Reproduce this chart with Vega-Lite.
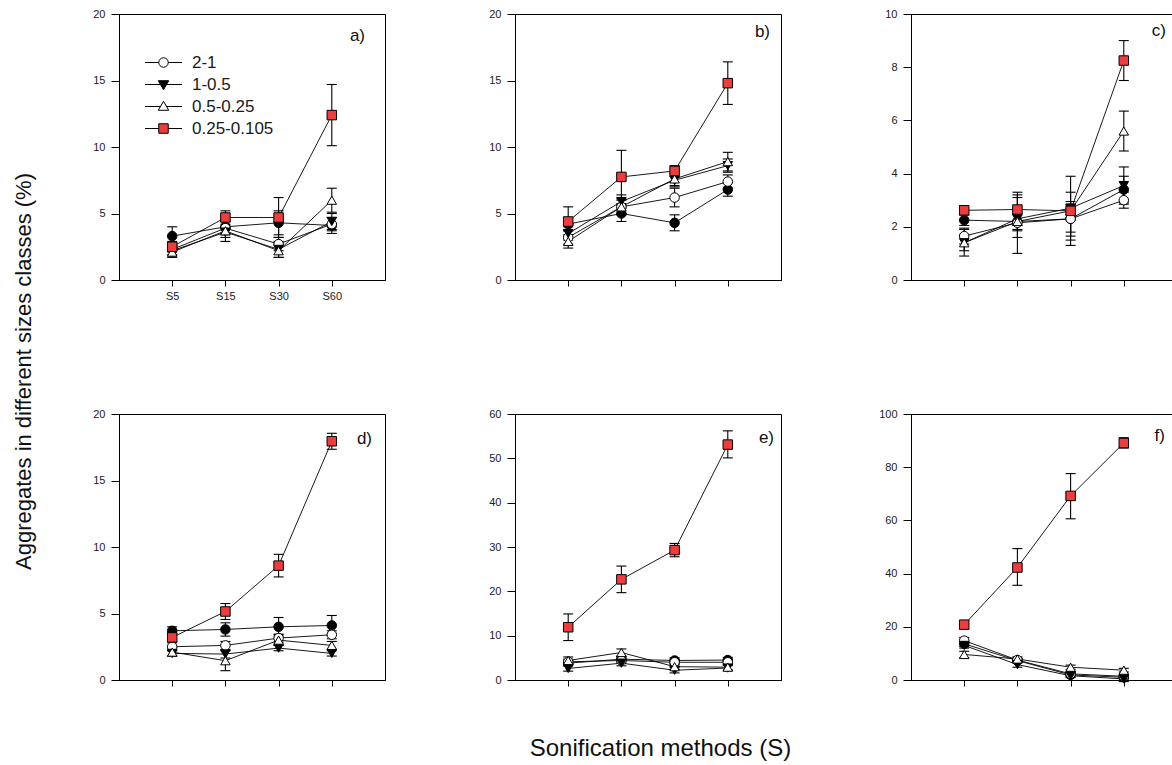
{
"$schema": "https://vega.github.io/schema/vega-lite/v6.json",
"padding": {"left": 11, "top": 7, "right": 0, "bottom": 0},
"bounds": "flush",
"columns": 3,
"spacing": {"row": 134, "column": 130},
"data": {"values": [
{"panel":"a","series":"5-2","method":"S5","mean":3.3,"lo":2.6,"hi":4.0},
{"panel":"a","series":"5-2","method":"S15","mean":4.0,"lo":3.5,"hi":4.5},
{"panel":"a","series":"5-2","method":"S30","mean":4.3,"lo":3.4,"hi":5.2},
{"panel":"a","series":"5-2","method":"S60","mean":4.1,"lo":3.5,"hi":4.7},
{"panel":"a","series":"2-1","method":"S5","mean":2.3,"lo":1.9,"hi":2.7},
{"panel":"a","series":"2-1","method":"S15","mean":3.9,"lo":3.4,"hi":4.4},
{"panel":"a","series":"2-1","method":"S30","mean":2.7,"lo":2.2,"hi":3.2},
{"panel":"a","series":"2-1","method":"S60","mean":4.2,"lo":3.7,"hi":4.7},
{"panel":"a","series":"1-0.5","method":"S5","mean":2.2,"lo":1.8,"hi":2.6},
{"panel":"a","series":"1-0.5","method":"S15","mean":3.6,"lo":3.2,"hi":4.0},
{"panel":"a","series":"1-0.5","method":"S30","mean":2.3,"lo":1.7,"hi":2.9},
{"panel":"a","series":"1-0.5","method":"S60","mean":4.4,"lo":3.8,"hi":5.0},
{"panel":"a","series":"0.5-0.25","method":"S5","mean":2.1,"lo":1.7,"hi":2.5},
{"panel":"a","series":"0.5-0.25","method":"S15","mean":3.7,"lo":2.9,"hi":4.5},
{"panel":"a","series":"0.5-0.25","method":"S30","mean":2.2,"lo":1.7,"hi":2.7},
{"panel":"a","series":"0.5-0.25","method":"S60","mean":6.0,"lo":5.1,"hi":6.9},
{"panel":"a","series":"0.25-0.105","method":"S5","mean":2.5,"lo":2.1,"hi":2.9},
{"panel":"a","series":"0.25-0.105","method":"S15","mean":4.7,"lo":4.2,"hi":5.2},
{"panel":"a","series":"0.25-0.105","method":"S30","mean":4.7,"lo":3.2,"hi":6.2},
{"panel":"a","series":"0.25-0.105","method":"S60","mean":12.4,"lo":10.1,"hi":14.7},
{"panel":"b","series":"5-2","method":"S5","mean":4.2,"lo":3.7,"hi":4.7},
{"panel":"b","series":"5-2","method":"S15","mean":5.0,"lo":4.4,"hi":5.6},
{"panel":"b","series":"5-2","method":"S30","mean":4.3,"lo":3.7,"hi":4.9},
{"panel":"b","series":"5-2","method":"S60","mean":6.8,"lo":6.3,"hi":7.3},
{"panel":"b","series":"2-1","method":"S5","mean":3.2,"lo":2.7,"hi":3.7},
{"panel":"b","series":"2-1","method":"S15","mean":5.5,"lo":5.0,"hi":6.0},
{"panel":"b","series":"2-1","method":"S30","mean":6.2,"lo":5.5,"hi":6.9},
{"panel":"b","series":"2-1","method":"S60","mean":7.4,"lo":6.9,"hi":7.9},
{"panel":"b","series":"1-0.5","method":"S5","mean":3.5,"lo":3.0,"hi":4.0},
{"panel":"b","series":"1-0.5","method":"S15","mean":5.9,"lo":5.4,"hi":6.4},
{"panel":"b","series":"1-0.5","method":"S30","mean":7.5,"lo":7.0,"hi":8.0},
{"panel":"b","series":"1-0.5","method":"S60","mean":8.6,"lo":8.1,"hi":9.1},
{"panel":"b","series":"0.5-0.25","method":"S5","mean":2.9,"lo":2.4,"hi":3.4},
{"panel":"b","series":"0.5-0.25","method":"S15","mean":5.5,"lo":4.9,"hi":6.1},
{"panel":"b","series":"0.5-0.25","method":"S30","mean":7.6,"lo":7.1,"hi":8.1},
{"panel":"b","series":"0.5-0.25","method":"S60","mean":8.9,"lo":8.2,"hi":9.6},
{"panel":"b","series":"0.25-0.105","method":"S5","mean":4.4,"lo":3.3,"hi":5.5},
{"panel":"b","series":"0.25-0.105","method":"S15","mean":7.75,"lo":5.75,"hi":9.75},
{"panel":"b","series":"0.25-0.105","method":"S30","mean":8.2,"lo":7.8,"hi":8.6},
{"panel":"b","series":"0.25-0.105","method":"S60","mean":14.8,"lo":13.2,"hi":16.4},
{"panel":"c","series":"5-2","method":"S5","mean":2.25,"lo":2.05,"hi":2.45},
{"panel":"c","series":"5-2","method":"S15","mean":2.2,"lo":1.9,"hi":2.5},
{"panel":"c","series":"5-2","method":"S30","mean":2.3,"lo":1.8,"hi":2.8},
{"panel":"c","series":"5-2","method":"S60","mean":3.4,"lo":2.9,"hi":3.9},
{"panel":"c","series":"2-1","method":"S5","mean":1.65,"lo":1.35,"hi":1.95},
{"panel":"c","series":"2-1","method":"S15","mean":2.15,"lo":1.85,"hi":2.45},
{"panel":"c","series":"2-1","method":"S30","mean":2.3,"lo":1.65,"hi":2.95},
{"panel":"c","series":"2-1","method":"S60","mean":3.0,"lo":2.7,"hi":3.3},
{"panel":"c","series":"1-0.5","method":"S5","mean":1.4,"lo":1.1,"hi":1.7},
{"panel":"c","series":"1-0.5","method":"S15","mean":2.3,"lo":1.6,"hi":3.2},
{"panel":"c","series":"1-0.5","method":"S30","mean":2.7,"lo":1.5,"hi":3.3},
{"panel":"c","series":"1-0.5","method":"S60","mean":3.55,"lo":2.85,"hi":4.25},
{"panel":"c","series":"0.5-0.25","method":"S5","mean":1.4,"lo":0.9,"hi":1.9},
{"panel":"c","series":"0.5-0.25","method":"S15","mean":2.2,"lo":1.0,"hi":3.1},
{"panel":"c","series":"0.5-0.25","method":"S30","mean":2.6,"lo":1.3,"hi":3.9},
{"panel":"c","series":"0.5-0.25","method":"S60","mean":5.6,"lo":4.85,"hi":6.35},
{"panel":"c","series":"0.25-0.105","method":"S5","mean":2.62,"lo":2.45,"hi":2.8},
{"panel":"c","series":"0.25-0.105","method":"S15","mean":2.65,"lo":2.05,"hi":3.3},
{"panel":"c","series":"0.25-0.105","method":"S30","mean":2.6,"lo":2.35,"hi":2.85},
{"panel":"c","series":"0.25-0.105","method":"S60","mean":8.25,"lo":7.5,"hi":9.0},
{"panel":"d","series":"5-2","method":"S5","mean":3.7,"lo":3.4,"hi":4.0},
{"panel":"d","series":"5-2","method":"S15","mean":3.8,"lo":3.3,"hi":4.3},
{"panel":"d","series":"5-2","method":"S30","mean":4.0,"lo":3.3,"hi":4.7},
{"panel":"d","series":"5-2","method":"S60","mean":4.1,"lo":3.35,"hi":4.85},
{"panel":"d","series":"2-1","method":"S5","mean":2.5,"lo":2.2,"hi":2.8},
{"panel":"d","series":"2-1","method":"S15","mean":2.6,"lo":2.3,"hi":2.9},
{"panel":"d","series":"2-1","method":"S30","mean":3.15,"lo":2.85,"hi":3.45},
{"panel":"d","series":"2-1","method":"S60","mean":3.4,"lo":3.1,"hi":3.7},
{"panel":"d","series":"1-0.5","method":"S5","mean":2.0,"lo":1.8,"hi":2.2},
{"panel":"d","series":"1-0.5","method":"S15","mean":1.95,"lo":1.65,"hi":2.25},
{"panel":"d","series":"1-0.5","method":"S30","mean":2.4,"lo":2.2,"hi":2.6},
{"panel":"d","series":"1-0.5","method":"S60","mean":2.0,"lo":1.8,"hi":2.2},
{"panel":"d","series":"0.5-0.25","method":"S5","mean":2.1,"lo":1.8,"hi":2.4},
{"panel":"d","series":"0.5-0.25","method":"S15","mean":1.45,"lo":0.7,"hi":2.2},
{"panel":"d","series":"0.5-0.25","method":"S30","mean":3.0,"lo":2.6,"hi":3.4},
{"panel":"d","series":"0.5-0.25","method":"S60","mean":2.6,"lo":2.3,"hi":2.9},
{"panel":"d","series":"0.25-0.105","method":"S5","mean":3.2,"lo":2.9,"hi":3.5},
{"panel":"d","series":"0.25-0.105","method":"S15","mean":5.15,"lo":4.55,"hi":5.75},
{"panel":"d","series":"0.25-0.105","method":"S30","mean":8.6,"lo":7.75,"hi":9.45},
{"panel":"d","series":"0.25-0.105","method":"S60","mean":17.95,"lo":17.35,"hi":18.55},
{"panel":"e","series":"5-2","method":"S5","mean":3.8,"lo":3.2,"hi":4.4},
{"panel":"e","series":"5-2","method":"S15","mean":4.7,"lo":4.1,"hi":5.3},
{"panel":"e","series":"5-2","method":"S30","mean":4.4,"lo":3.8,"hi":5.0},
{"panel":"e","series":"5-2","method":"S60","mean":4.5,"lo":3.9,"hi":5.1},
{"panel":"e","series":"2-1","method":"S5","mean":4.1,"lo":3.5,"hi":4.7},
{"panel":"e","series":"2-1","method":"S15","mean":4.4,"lo":3.8,"hi":5.0},
{"panel":"e","series":"2-1","method":"S30","mean":4.0,"lo":3.4,"hi":4.6},
{"panel":"e","series":"2-1","method":"S60","mean":4.0,"lo":3.4,"hi":4.6},
{"panel":"e","series":"1-0.5","method":"S5","mean":2.6,"lo":2.0,"hi":3.2},
{"panel":"e","series":"1-0.5","method":"S15","mean":3.8,"lo":3.2,"hi":4.4},
{"panel":"e","series":"1-0.5","method":"S30","mean":2.2,"lo":1.6,"hi":2.8},
{"panel":"e","series":"1-0.5","method":"S60","mean":2.7,"lo":2.1,"hi":3.3},
{"panel":"e","series":"0.5-0.25","method":"S5","mean":4.4,"lo":3.6,"hi":5.2},
{"panel":"e","series":"0.5-0.25","method":"S15","mean":6.2,"lo":5.4,"hi":7.0},
{"panel":"e","series":"0.5-0.25","method":"S30","mean":3.0,"lo":2.4,"hi":3.6},
{"panel":"e","series":"0.5-0.25","method":"S60","mean":2.9,"lo":2.3,"hi":3.5},
{"panel":"e","series":"0.25-0.105","method":"S5","mean":11.9,"lo":8.9,"hi":14.9},
{"panel":"e","series":"0.25-0.105","method":"S15","mean":22.7,"lo":19.7,"hi":25.7},
{"panel":"e","series":"0.25-0.105","method":"S30","mean":29.3,"lo":27.8,"hi":30.8},
{"panel":"e","series":"0.25-0.105","method":"S60","mean":53.1,"lo":50.1,"hi":56.2},
{"panel":"f","series":"5-2","method":"S5","mean":13.6,"lo":12.6,"hi":14.6},
{"panel":"f","series":"5-2","method":"S15","mean":7.3,"lo":6.5,"hi":8.1},
{"panel":"f","series":"5-2","method":"S30","mean":1.9,"lo":1.2,"hi":2.6},
{"panel":"f","series":"5-2","method":"S60","mean":1.0,"lo":0.4,"hi":1.6},
{"panel":"f","series":"2-1","method":"S5","mean":14.8,"lo":13.6,"hi":16.0},
{"panel":"f","series":"2-1","method":"S15","mean":7.5,"lo":6.7,"hi":8.3},
{"panel":"f","series":"2-1","method":"S30","mean":2.3,"lo":1.6,"hi":3.0},
{"panel":"f","series":"2-1","method":"S60","mean":1.4,"lo":0.8,"hi":2.0},
{"panel":"f","series":"1-0.5","method":"S5","mean":13.0,"lo":12.0,"hi":14.0},
{"panel":"f","series":"1-0.5","method":"S15","mean":5.8,"lo":4.8,"hi":6.8},
{"panel":"f","series":"1-0.5","method":"S30","mean":1.6,"lo":0.9,"hi":2.3},
{"panel":"f","series":"1-0.5","method":"S60","mean":0.4,"lo":-0.6,"hi":1.4},
{"panel":"f","series":"0.5-0.25","method":"S5","mean":9.6,"lo":8.4,"hi":10.8},
{"panel":"f","series":"0.5-0.25","method":"S15","mean":7.9,"lo":7.1,"hi":8.7},
{"panel":"f","series":"0.5-0.25","method":"S30","mean":4.8,"lo":4.0,"hi":5.6},
{"panel":"f","series":"0.5-0.25","method":"S60","mean":3.7,"lo":3.0,"hi":4.4},
{"panel":"f","series":"0.25-0.105","method":"S5","mean":20.8,"lo":19.3,"hi":22.3},
{"panel":"f","series":"0.25-0.105","method":"S15","mean":42.3,"lo":35.6,"hi":49.4},
{"panel":"f","series":"0.25-0.105","method":"S30","mean":69.2,"lo":60.6,"hi":77.6},
{"panel":"f","series":"0.25-0.105","method":"S60","mean":89.1,"lo":87.2,"hi":91.1}
]},
"concat": [
{
 "width": 266, "height": 266,
 "title": {"text": "a)", "dx": -20, "dy": 41},
 "transform": [{"filter": "datum.panel === 'a'"}],
 "encoding": {"x": {"field": "method", "type": "ordinal", "scale": {"type": "point", "padding": 1, "domain": ["S5","S15","S30","S60"]}, "axis": {"title": null, "labels": true}}},
 "layer": [
  {"mark": {"type": "rule", "color": "black", "strokeWidth": 1.1}, "encoding": {"y": {"field": "lo", "type": "quantitative", "scale": {"domain": [0,20]}, "axis": {"values": [0,5,10,15,20], "title": null}}, "y2": {"field": "hi"}}},
  {"mark": {"type": "tick", "orient": "horizontal", "color": "black", "thickness": 1.1, "size": 10, "opacity": 1}, "encoding": {"y": {"field": "lo", "type": "quantitative", "scale": {"domain": [0,20]}, "axis": {"values": [0,5,10,15,20], "title": null}}}},
  {"mark": {"type": "tick", "orient": "horizontal", "color": "black", "thickness": 1.1, "size": 10, "opacity": 1}, "encoding": {"y": {"field": "hi", "type": "quantitative", "scale": {"domain": [0,20]}, "axis": {"values": [0,5,10,15,20], "title": null}}}},
  {"mark": {"type": "line", "color": "black", "strokeWidth": 0.9}, "encoding": {"y": {"field": "mean", "type": "quantitative", "scale": {"domain": [0,20]}, "axis": {"values": [0,5,10,15,20], "title": null}}, "detail": {"field": "series"}, "order": {"value": null}}},
  {"mark": {"type": "point", "filled": true, "stroke": "black", "strokeWidth": 1, "size": 90, "opacity": 1}, "encoding": {"y": {"field": "mean", "type": "quantitative", "scale": {"domain": [0,20]}, "axis": {"values": [0,5,10,15,20], "title": null}}, "shape": {"field": "series", "type": "nominal", "scale": {"domain": ["5-2","2-1","1-0.5","0.5-0.25","0.25-0.105"], "range": ["circle","circle","triangle-down","triangle-up","square"]}, "legend": null}, "fill": {"field": "series", "type": "nominal", "scale": {"domain": ["5-2","2-1","1-0.5","0.5-0.25","0.25-0.105"], "range": ["#000000","#ffffff","#000000","#ffffff","#f03c3c"]}, "legend": null}}},
  {"transform": [{"filter": "datum.series !== '5-2'"}],
   "mark": {"type": "point", "filled": true, "size": 90, "opacity": 0, "stroke": "black", "strokeWidth": 1},
   "encoding": {
    "y": {"field": "mean", "type": "quantitative", "scale": {"domain": [0,20]}, "axis": {"values": [0,5,10,15,20], "title": null}},
    "shape": {"field": "series", "type": "nominal", "scale": {"domain": ["2-1","1-0.5","0.5-0.25","0.25-0.105"], "range": ["M-3.9,0L-1,0M1,0L3.9,0M-1,0A1,1,0,1,0,1,0A1,1,0,1,0,-1,0Z", "M-3.9,0L3.9,0M-1.1,-0.8L1.1,-0.8L0,1.1Z", "M-3.9,0L-0.64,0M0.64,0L3.9,0M-1.1,0.8L1.1,0.8L0,-1.1Z", "M-3.9,0L-1,0M1,0L3.9,0M-1,-1L1,-1L1,1L-1,1Z"]},
     "legend": {"title": null, "orient": "none", "legendX": 36, "legendY": 40, "padding": 0, "labelFontSize": 17, "labelFont": "Liberation Sans", "labelColor": "#1a1a1a", "labelOffset": 20, "rowPadding": 4, "symbolSize": 90, "symbolOpacity": 1, "symbolStrokeColor": "black", "symbolStrokeWidth": 1, "encode": {"symbols": {"update": {"stroke": {"value": "black"}, "strokeWidth": {"value": 1}, "opacity": {"value": 1}}}}}},
    "fill": {"field": "series", "type": "nominal", "scale": {"domain": ["2-1","1-0.5","0.5-0.25","0.25-0.105"], "range": ["#ffffff","#000000","#ffffff","#f03c3c"]},
     "legend": {"title": null, "orient": "none", "legendX": 36, "legendY": 40, "padding": 0, "labelFontSize": 17, "labelFont": "Liberation Sans", "labelColor": "#1a1a1a", "labelOffset": 20, "rowPadding": 4, "symbolSize": 90, "symbolOpacity": 1, "symbolStrokeColor": "black", "symbolStrokeWidth": 1, "encode": {"symbols": {"update": {"stroke": {"value": "black"}, "strokeWidth": {"value": 1}, "opacity": {"value": 1}}}}}}
   }}
 ],
 "resolve": {"scale": {"shape": "independent", "fill": "independent"}}
},
{
 "width": 266, "height": 266,
 "title": {"text": "b)", "dx": -11, "dy": 37},
 "transform": [{"filter": "datum.panel === 'b'"}],
 "encoding": {"x": {"field": "method", "type": "ordinal", "scale": {"type": "point", "padding": 1, "domain": ["S5","S15","S30","S60"]}, "axis": {"title": null, "labels": false}}},
 "layer": [
  {"mark": {"type": "rule", "color": "black", "strokeWidth": 1.1}, "encoding": {"y": {"field": "lo", "type": "quantitative", "scale": {"domain": [0,20]}, "axis": {"values": [0,5,10,15,20], "title": null}}, "y2": {"field": "hi"}}},
  {"mark": {"type": "tick", "orient": "horizontal", "color": "black", "thickness": 1.1, "size": 10, "opacity": 1}, "encoding": {"y": {"field": "lo", "type": "quantitative", "scale": {"domain": [0,20]}, "axis": {"values": [0,5,10,15,20], "title": null}}}},
  {"mark": {"type": "tick", "orient": "horizontal", "color": "black", "thickness": 1.1, "size": 10, "opacity": 1}, "encoding": {"y": {"field": "hi", "type": "quantitative", "scale": {"domain": [0,20]}, "axis": {"values": [0,5,10,15,20], "title": null}}}},
  {"mark": {"type": "line", "color": "black", "strokeWidth": 0.9}, "encoding": {"y": {"field": "mean", "type": "quantitative", "scale": {"domain": [0,20]}, "axis": {"values": [0,5,10,15,20], "title": null}}, "detail": {"field": "series"}, "order": {"value": null}}},
  {"mark": {"type": "point", "filled": true, "stroke": "black", "strokeWidth": 1, "size": 90, "opacity": 1}, "encoding": {"y": {"field": "mean", "type": "quantitative", "scale": {"domain": [0,20]}, "axis": {"values": [0,5,10,15,20], "title": null}}, "shape": {"field": "series", "type": "nominal", "scale": {"domain": ["5-2","2-1","1-0.5","0.5-0.25","0.25-0.105"], "range": ["circle","circle","triangle-down","triangle-up","square"]}, "legend": null}, "fill": {"field": "series", "type": "nominal", "scale": {"domain": ["5-2","2-1","1-0.5","0.5-0.25","0.25-0.105"], "range": ["#000000","#ffffff","#000000","#ffffff","#f03c3c"]}, "legend": null}}}
 ]
},
{
 "width": 266, "height": 266,
 "title": {"text": "c)", "dx": -11, "dy": 36},
 "transform": [{"filter": "datum.panel === 'c'"}],
 "encoding": {"x": {"field": "method", "type": "ordinal", "scale": {"type": "point", "padding": 1, "domain": ["S5","S15","S30","S60"]}, "axis": {"title": null, "labels": false}}},
 "layer": [
  {"mark": {"type": "rule", "color": "black", "strokeWidth": 1.1}, "encoding": {"y": {"field": "lo", "type": "quantitative", "scale": {"domain": [0,10]}, "axis": {"values": [0,2,4,6,8,10], "title": null}}, "y2": {"field": "hi"}}},
  {"mark": {"type": "tick", "orient": "horizontal", "color": "black", "thickness": 1.1, "size": 10, "opacity": 1}, "encoding": {"y": {"field": "lo", "type": "quantitative", "scale": {"domain": [0,10]}, "axis": {"values": [0,2,4,6,8,10], "title": null}}}},
  {"mark": {"type": "tick", "orient": "horizontal", "color": "black", "thickness": 1.1, "size": 10, "opacity": 1}, "encoding": {"y": {"field": "hi", "type": "quantitative", "scale": {"domain": [0,10]}, "axis": {"values": [0,2,4,6,8,10], "title": null}}}},
  {"mark": {"type": "line", "color": "black", "strokeWidth": 0.9}, "encoding": {"y": {"field": "mean", "type": "quantitative", "scale": {"domain": [0,10]}, "axis": {"values": [0,2,4,6,8,10], "title": null}}, "detail": {"field": "series"}, "order": {"value": null}}},
  {"mark": {"type": "point", "filled": true, "stroke": "black", "strokeWidth": 1, "size": 90, "opacity": 1}, "encoding": {"y": {"field": "mean", "type": "quantitative", "scale": {"domain": [0,10]}, "axis": {"values": [0,2,4,6,8,10], "title": null}}, "shape": {"field": "series", "type": "nominal", "scale": {"domain": ["5-2","2-1","1-0.5","0.5-0.25","0.25-0.105"], "range": ["circle","circle","triangle-down","triangle-up","square"]}, "legend": null}, "fill": {"field": "series", "type": "nominal", "scale": {"domain": ["5-2","2-1","1-0.5","0.5-0.25","0.25-0.105"], "range": ["#000000","#ffffff","#000000","#ffffff","#f03c3c"]}, "legend": null}}}
 ]
},
{
 "width": 266, "height": 266,
 "title": {"text": "d)", "dx": -13, "dy": 279},
 "transform": [{"filter": "datum.panel === 'd'"}],
 "encoding": {"x": {"field": "method", "type": "ordinal", "scale": {"type": "point", "padding": 1, "domain": ["S5","S15","S30","S60"]}, "axis": {"title": null, "labels": false}}},
 "layer": [
  {"mark": {"type": "rule", "color": "black", "strokeWidth": 1.1}, "encoding": {"y": {"field": "lo", "type": "quantitative", "scale": {"domain": [0,20]}, "axis": {"values": [0,5,10,15,20], "title": "Aggregates in different sizes classes (%)", "titleFontSize": 22, "titleFontWeight": "normal", "titleColor": "#111111", "titleAngle": 270, "titleX": -89, "titleY": -43, "titleBaseline": "alphabetic", "titleAlign": "center"}}, "y2": {"field": "hi"}}},
  {"mark": {"type": "tick", "orient": "horizontal", "color": "black", "thickness": 1.1, "size": 10, "opacity": 1}, "encoding": {"y": {"field": "lo", "type": "quantitative", "scale": {"domain": [0,20]}, "axis": {"values": [0,5,10,15,20], "title": "Aggregates in different sizes classes (%)", "titleFontSize": 22, "titleFontWeight": "normal", "titleColor": "#111111", "titleAngle": 270, "titleX": -89, "titleY": -43, "titleBaseline": "alphabetic", "titleAlign": "center"}}}},
  {"mark": {"type": "tick", "orient": "horizontal", "color": "black", "thickness": 1.1, "size": 10, "opacity": 1}, "encoding": {"y": {"field": "hi", "type": "quantitative", "scale": {"domain": [0,20]}, "axis": {"values": [0,5,10,15,20], "title": "Aggregates in different sizes classes (%)", "titleFontSize": 22, "titleFontWeight": "normal", "titleColor": "#111111", "titleAngle": 270, "titleX": -89, "titleY": -43, "titleBaseline": "alphabetic", "titleAlign": "center"}}}},
  {"mark": {"type": "line", "color": "black", "strokeWidth": 0.9}, "encoding": {"y": {"field": "mean", "type": "quantitative", "scale": {"domain": [0,20]}, "axis": {"values": [0,5,10,15,20], "title": "Aggregates in different sizes classes (%)", "titleFontSize": 22, "titleFontWeight": "normal", "titleColor": "#111111", "titleAngle": 270, "titleX": -89, "titleY": -43, "titleBaseline": "alphabetic", "titleAlign": "center"}}, "detail": {"field": "series"}, "order": {"value": null}}},
  {"mark": {"type": "point", "filled": true, "stroke": "black", "strokeWidth": 1, "size": 90, "opacity": 1}, "encoding": {"y": {"field": "mean", "type": "quantitative", "scale": {"domain": [0,20]}, "axis": {"values": [0,5,10,15,20], "title": "Aggregates in different sizes classes (%)", "titleFontSize": 22, "titleFontWeight": "normal", "titleColor": "#111111", "titleAngle": 270, "titleX": -89, "titleY": -43, "titleBaseline": "alphabetic", "titleAlign": "center"}}, "shape": {"field": "series", "type": "nominal", "scale": {"domain": ["5-2","2-1","1-0.5","0.5-0.25","0.25-0.105"], "range": ["circle","circle","triangle-down","triangle-up","square"]}, "legend": null}, "fill": {"field": "series", "type": "nominal", "scale": {"domain": ["5-2","2-1","1-0.5","0.5-0.25","0.25-0.105"], "range": ["#000000","#ffffff","#000000","#ffffff","#f03c3c"]}, "legend": null}}}
 ]
},
{
 "width": 266, "height": 266,
 "title": {"text": "e)", "dx": -7, "dy": 43},
 "transform": [{"filter": "datum.panel === 'e'"}],
 "encoding": {"x": {"field": "method", "type": "ordinal", "scale": {"type": "point", "padding": 1, "domain": ["S5","S15","S30","S60"]}, "axis": {"labels": false, "title": "Sonification methods (S)", "titleFontSize": 24, "titleFontWeight": "normal", "titleColor": "#111111", "titleX": 145, "titleY": 75, "titleBaseline": "alphabetic", "titleAlign": "center"}}},
 "layer": [
  {"mark": {"type": "rule", "color": "black", "strokeWidth": 1.1}, "encoding": {"y": {"field": "lo", "type": "quantitative", "scale": {"domain": [0,60]}, "axis": {"values": [0,10,20,30,40,50,60], "title": null}}, "y2": {"field": "hi"}}},
  {"mark": {"type": "tick", "orient": "horizontal", "color": "black", "thickness": 1.1, "size": 10, "opacity": 1}, "encoding": {"y": {"field": "lo", "type": "quantitative", "scale": {"domain": [0,60]}, "axis": {"values": [0,10,20,30,40,50,60], "title": null}}}},
  {"mark": {"type": "tick", "orient": "horizontal", "color": "black", "thickness": 1.1, "size": 10, "opacity": 1}, "encoding": {"y": {"field": "hi", "type": "quantitative", "scale": {"domain": [0,60]}, "axis": {"values": [0,10,20,30,40,50,60], "title": null}}}},
  {"mark": {"type": "line", "color": "black", "strokeWidth": 0.9}, "encoding": {"y": {"field": "mean", "type": "quantitative", "scale": {"domain": [0,60]}, "axis": {"values": [0,10,20,30,40,50,60], "title": null}}, "detail": {"field": "series"}, "order": {"value": null}}},
  {"mark": {"type": "point", "filled": true, "stroke": "black", "strokeWidth": 1, "size": 90, "opacity": 1}, "encoding": {"y": {"field": "mean", "type": "quantitative", "scale": {"domain": [0,60]}, "axis": {"values": [0,10,20,30,40,50,60], "title": null}}, "shape": {"field": "series", "type": "nominal", "scale": {"domain": ["5-2","2-1","1-0.5","0.5-0.25","0.25-0.105"], "range": ["circle","circle","triangle-down","triangle-up","square"]}, "legend": null}, "fill": {"field": "series", "type": "nominal", "scale": {"domain": ["5-2","2-1","1-0.5","0.5-0.25","0.25-0.105"], "range": ["#000000","#ffffff","#000000","#ffffff","#f03c3c"]}, "legend": null}}}
 ]
},
{
 "width": 266, "height": 266,
 "title": {"text": "f)", "dx": -12, "dy": 41},
 "transform": [{"filter": "datum.panel === 'f'"}],
 "encoding": {"x": {"field": "method", "type": "ordinal", "scale": {"type": "point", "padding": 1, "domain": ["S5","S15","S30","S60"]}, "axis": {"title": null, "labels": false}}},
 "layer": [
  {"mark": {"type": "rule", "color": "black", "strokeWidth": 1.1}, "encoding": {"y": {"field": "lo", "type": "quantitative", "scale": {"domain": [0,100]}, "axis": {"values": [0,20,40,60,80,100], "title": null}}, "y2": {"field": "hi"}}},
  {"mark": {"type": "tick", "orient": "horizontal", "color": "black", "thickness": 1.1, "size": 10, "opacity": 1}, "encoding": {"y": {"field": "lo", "type": "quantitative", "scale": {"domain": [0,100]}, "axis": {"values": [0,20,40,60,80,100], "title": null}}}},
  {"mark": {"type": "tick", "orient": "horizontal", "color": "black", "thickness": 1.1, "size": 10, "opacity": 1}, "encoding": {"y": {"field": "hi", "type": "quantitative", "scale": {"domain": [0,100]}, "axis": {"values": [0,20,40,60,80,100], "title": null}}}},
  {"mark": {"type": "line", "color": "black", "strokeWidth": 0.9}, "encoding": {"y": {"field": "mean", "type": "quantitative", "scale": {"domain": [0,100]}, "axis": {"values": [0,20,40,60,80,100], "title": null}}, "detail": {"field": "series"}, "order": {"value": null}}},
  {"mark": {"type": "point", "filled": true, "stroke": "black", "strokeWidth": 1, "size": 90, "opacity": 1}, "encoding": {"y": {"field": "mean", "type": "quantitative", "scale": {"domain": [0,100]}, "axis": {"values": [0,20,40,60,80,100], "title": null}}, "shape": {"field": "series", "type": "nominal", "scale": {"domain": ["5-2","2-1","1-0.5","0.5-0.25","0.25-0.105"], "range": ["circle","circle","triangle-down","triangle-up","square"]}, "legend": null}, "fill": {"field": "series", "type": "nominal", "scale": {"domain": ["5-2","2-1","1-0.5","0.5-0.25","0.25-0.105"], "range": ["#000000","#ffffff","#000000","#ffffff","#f03c3c"]}, "legend": null}}}
 ]
}
],
"config": {
 "font": "Liberation Sans",
 "view": {"stroke": "black", "strokeWidth": 1},
 "axis": {"grid": false, "domainColor": "black", "domainWidth": 1, "tickColor": "black", "tickWidth": 1, "labelColor": "#222222", "labelFont": "Liberation Sans", "labelFontSize": 11, "titleFont": "Liberation Sans"},
 "axisY": {"tickSize": 8, "labelPadding": 6},
 "axisX": {"tickSize": 6, "labelPadding": 4, "labelAngle": 0},
 "title": {"anchor": "end", "orient": "top", "frame": "group", "offset": 0, "baseline": "alphabetic", "fontSize": 17, "fontWeight": "normal", "color": "#111111", "font": "Liberation Sans"}
}
}
